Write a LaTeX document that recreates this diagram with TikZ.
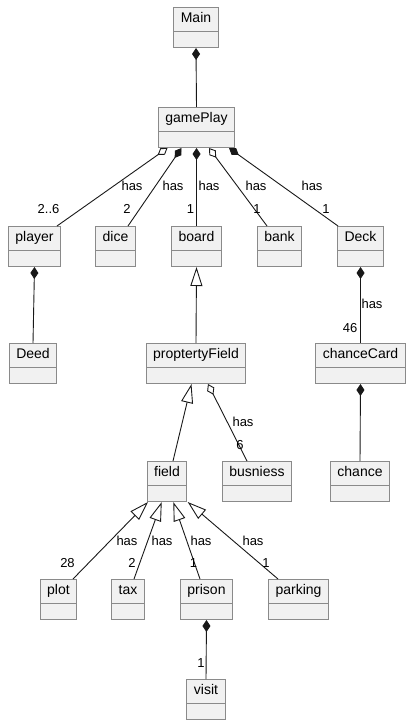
\documentclass[tikz,border=0pt]{standalone}
\usepackage{fontspec}
\setmainfont{Liberation Sans}
\usetikzlibrary{arrows.meta, shapes.multipart}

\definecolor{boxfill}{HTML}{F1F1F1}
\definecolor{boxline}{HTML}{8A8A8A}
\definecolor{linkline}{HTML}{181818}

\tikzset{
  umlclass/.style={rectangle split, rectangle split parts=2, draw=boxline, fill=boxfill,
    line width=1pt, anchor=north, inner xsep=7pt, inner ysep=3.5pt,
    rectangle split empty part height=8pt,
    font=\fontsize{14}{16}\selectfont, execute at begin node=\strut},
  link/.style={draw=linkline, line width=0.9pt},
  lbl/.style={font=\fontsize{13}{15}\selectfont, inner sep=0pt},
  comp/.style={link, {Diamond[length=12pt, width=8pt]}-},
  aggr/.style={link, {Diamond[open, length=12pt, width=8pt]}-},
  ext/.style={link, {Triangle[open, length=19pt, width=12pt]}-},
}

\begin{document}
\begin{tikzpicture}[x=1pt, y=-1pt]

\useasboundingbox (0,0) rectangle (411,722);

% Classes
\node[umlclass] (main) at (196,7) {Main};
\node[umlclass] (gameplay) at (196.5,107) {gamePlay};

\node[umlclass] (player) at (34.5,226) {player};
\node[umlclass] (dice) at (115.5,226) {dice};
\node[umlclass] (board) at (196.5,226) {board};
\node[umlclass] (bank) at (279.5,226) {bank};
\node[umlclass] (deck) at (360.5,226) {Deck};

\node[umlclass] (deed) at (33,343) {Deed};
\node[umlclass] (propfield) at (196,343) {proptertyField};
\node[umlclass] (chancecard) at (360.5,343) {chanceCard};

\node[umlclass] (field) at (167,461) {field};
\node[umlclass] (busniess) at (257,461) {busniess};
\node[umlclass] (chance) at (360,461) {chance};

\node[umlclass] (plot) at (58.5,579) {plot};
\node[umlclass] (tax) at (128,579) {tax};
\node[umlclass] (prison) at (206.5,579) {prison};
\node[umlclass] (parking) at (298.5,579) {parking};

\node[umlclass] (visit) at (206,679) {visit};

% Main and gamePlay
\draw[comp] (main.south) -- (gameplay.north);

% gamePlay parts
\draw[aggr] ([xshift=-29pt]gameplay.south) -- ([xshift=22.5pt]player.north);
\draw[comp] ([xshift=-15pt]gameplay.south) -- ([xshift=12.5pt]dice.north);
\draw[comp] (gameplay.south) -- (board.north);
\draw[aggr] ([xshift=12.5pt]gameplay.south) -- ([xshift=-12.5pt]bank.north);
\draw[comp] ([xshift=32.5pt]gameplay.south) -- ([xshift=-22.5pt]deck.north);

\node[lbl] (hasplayer) at (132,186) {has};
\node[lbl] (mulplayer) at (48.5,209) {2..6};
\node[lbl] (hasdice) at (173,186) {has};
\node[lbl] (muldice) at (127,209) {2};
\node[lbl] (hasboard) at (209,186) {has};
\node[lbl] (mulboard) at (190.5,209) {1};
\node[lbl] (hasbank) at (256,186) {has};
\node[lbl] (mulbank) at (257,209) {1};
\node[lbl] (hasdeck) at (312,186) {has};
\node[lbl] (muldeck) at (326,209) {1};

% second row
\draw[comp] (player.south) -- (deed.north);
\draw[ext] (board.south) -- (propfield.north);
\draw[comp] (deck.south) -- (chancecard.north);

\node[lbl] (hascard) at (372,304) {has};
\node[lbl] (mulcard) at (350,328) {46};

% third row
\draw[ext] ([xshift=-4.5pt]propfield.south) -- ([xshift=6pt]field.north);
\draw[aggr] ([xshift=12pt]propfield.south) -- ([xshift=-10pt]busniess.north);
\draw[comp] (chancecard.south) -- (chance.north);

\node[lbl] (hasbus) at (243,422) {has};
\node[lbl] (mulbus) at (240,445) {6};

% fields
\draw[ext] ([xshift=-19pt]field.south) -- ([xshift=14.5pt]plot.north);
\draw[ext] ([xshift=-5.3pt]field.south) -- ([xshift=6pt]tax.north);
\draw[ext] ([xshift=6.3pt]field.south) -- ([xshift=-6.5pt]prison.north);
\draw[ext] ([xshift=20.7pt]field.south) -- ([xshift=-20.5pt]parking.north);

\node[lbl] (hasplot) at (127,541) {has};
\node[lbl] (mulplot) at (67.5,563) {28};
\node[lbl] (hastax) at (162,541) {has};
\node[lbl] (multax) at (132,563) {2};
\node[lbl] (hasprison) at (201,541) {has};
\node[lbl] (mulprison) at (193.5,563) {1};
\node[lbl] (hasparking) at (253,541) {has};
\node[lbl] (mulparking) at (266,563) {1};

% prison and visit
\draw[comp] (prison.south) -- (visit.north);
\node[lbl] (mulvisit) at (201,663) {1};

\end{tikzpicture}
\end{document}
